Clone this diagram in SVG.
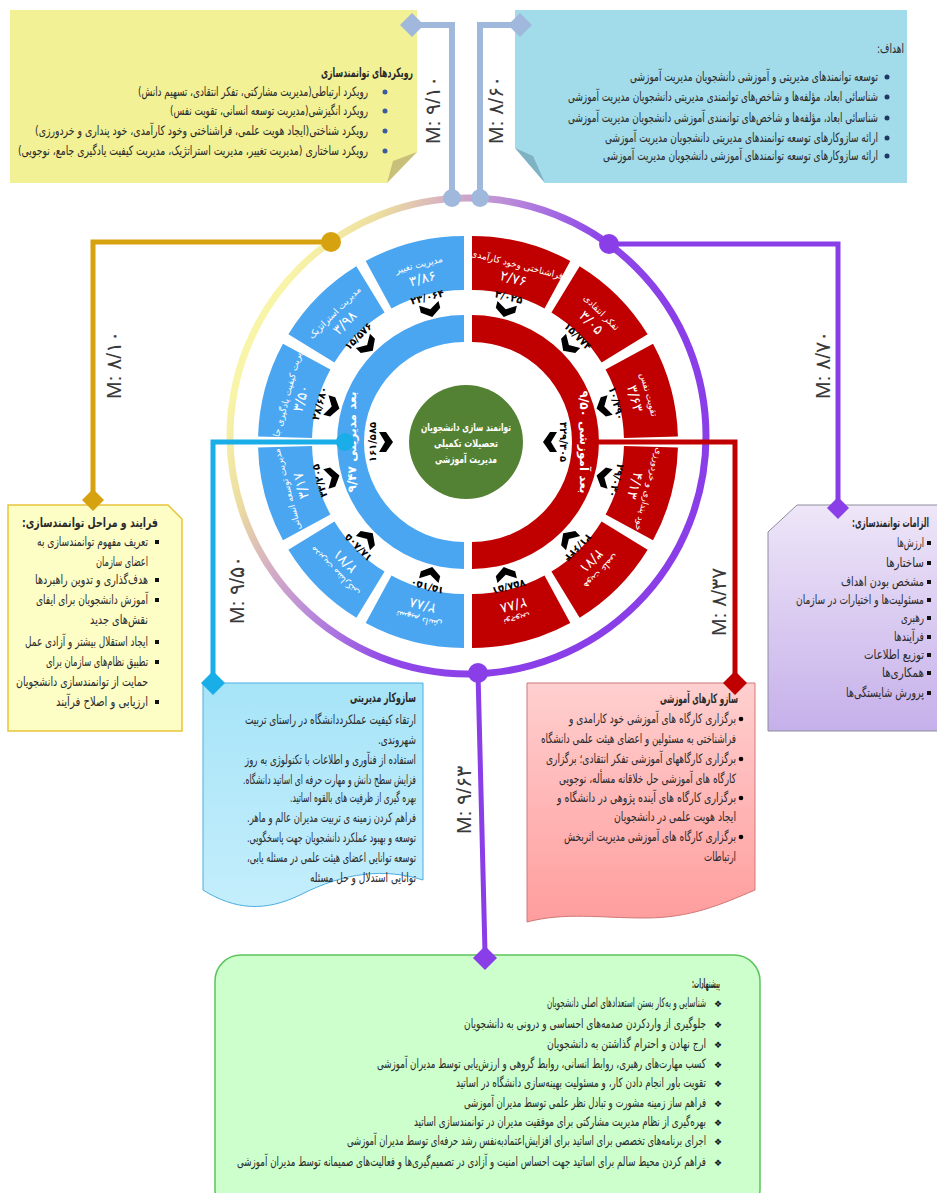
<svg xmlns="http://www.w3.org/2000/svg" width="937" height="1193" viewBox="0 0 937 1193">
<defs>
<style>
.fa{font-family:"DejaVu Sans",sans-serif;fill:#2a2a2a;font-size:13px}
.b{font-weight:bold}
.seg{fill:#fff;font-family:"DejaVu Sans",sans-serif;direction:rtl}
.lab{font-size:9px}
.val{font-size:14px}
.inl{fill:#fff;font-family:"DejaVu Sans",sans-serif;font-size:12px;font-weight:bold;direction:rtl}
.num{font-family:"DejaVu Sans",sans-serif;font-size:10px;font-weight:bold;fill:#000}
.m{font-family:"Liberation Sans",sans-serif;font-size:21px;fill:#3a3a3a}
.blue{fill:#4ba6f2}
.red{fill:#c00000}
.ctr{fill:#fff;font-family:"DejaVu Sans",sans-serif;font-size:11px;font-weight:bold;direction:rtl}
.sq{fill:#111}
</style>
<linearGradient id="ringGrad" gradientUnits="userSpaceOnUse" x1="230" y1="400" x2="560" y2="560">
<stop offset="0" stop-color="#f8f4a8"/>
<stop offset="0.15" stop-color="#ecdca0"/>
<stop offset="0.3" stop-color="#d4aec4"/>
<stop offset="0.45" stop-color="#b98ada"/>
<stop offset="0.7" stop-color="#8f48e8"/>
<stop offset="1" stop-color="#8a3ee8"/>
</linearGradient>
<linearGradient id="lavGrad" x1="0" y1="0" x2="0" y2="1">
<stop offset="0" stop-color="#eee6f8"/>
<stop offset="1" stop-color="#c6b0ea"/>
</linearGradient>
<linearGradient id="cyanGrad" x1="0" y1="0" x2="0" y2="1">
<stop offset="0" stop-color="#a6e4f8"/>
<stop offset="1" stop-color="#c4eefc"/>
</linearGradient>
<linearGradient id="pinkGrad" x1="0" y1="0" x2="0" y2="1">
<stop offset="0" stop-color="#ffcfcf"/>
<stop offset="1" stop-color="#ff9d9d"/>
</linearGradient>
<path id="chev" d="M-10,0 L0,6 L10,0 L10,7 L0,14 L-10,7 Z" fill="#000"/>
</defs>

<rect width="937" height="1193" fill="#fff"/>

<!-- big gradient ring -->
<g id="outer-ring">
<circle cx="468" cy="436" r="238" fill="none" stroke="url(#ringGrad)" stroke-width="7"/>
</g>

<!-- center wheel -->
<g id="wheel-blue">
<path class="blue" d="M464,236 A206,206 0 0 0 365.7,260.97 L391.47,308.42 A152,152 0 0 1 464,290 Z"/>
<path class="blue" d="M356.36,266.36 A206,206 0 0 0 288.36,334.36 L334.4,362.58 A152,152 0 0 1 384.58,312.4 Z"/>
<path class="blue" d="M282.97,343.7 A206,206 0 0 0 258.07,436.61 L312.05,438.02 A152,152 0 0 1 330.42,369.47 Z"/>
<path class="blue" d="M258.07,447.39 A206,206 0 0 0 282.97,540.3 L330.42,514.53 A152,152 0 0 1 312.05,445.98 Z"/>
<path class="blue" d="M288.36,549.64 A206,206 0 0 0 356.36,617.64 L384.58,571.6 A152,152 0 0 1 334.4,521.42 Z"/>
<path class="blue" d="M365.7,623.03 A206,206 0 0 0 464,648 L464,594 A152,152 0 0 1 391.47,575.58 Z"/>
<path class="blue" d="M464,315 A127,127 0 0 0 464,569 L464,542 A100,100 0 0 1 464,342 Z"/>
<g transform="translate(420.7,271.4) rotate(-14.25)"><text class="seg lab" y="-4" text-anchor="middle">مدیریت تغییر</text><text class="seg val" y="12" text-anchor="middle">۳/۸۶</text></g>
<g transform="translate(339.55,317.55) rotate(-45)"><text class="seg lab" y="-4" text-anchor="middle">مدیریت استراتژیک</text><text class="seg val" y="12" text-anchor="middle">۳/۹۸</text></g>
<g transform="translate(294,396.45) rotate(-75)"><text class="seg lab" y="-4" text-anchor="middle">مدیریت کیفیت یادگیری جامع</text><text class="seg val" y="12" text-anchor="middle">۳/۵۰</text></g>
<g transform="translate(294,487.55) rotate(-105)"><text class="seg lab" y="-4" text-anchor="middle">مدیریت توسعه انسانی</text><text class="seg val" y="12" text-anchor="middle">۳/۱۷</text></g>
<g transform="translate(339.55,566.45) rotate(-135)"><text class="seg lab" y="-4" text-anchor="middle">مدیریت مشارکتی</text><text class="seg val" y="12" text-anchor="middle">۲/۷۱</text></g>
<g transform="translate(420.7,612.6) rotate(-165.75)"><text class="seg lab" y="-4" text-anchor="middle">تسهیم دانش</text><text class="seg val" y="12" text-anchor="middle">۲/۸۸</text></g>
<g transform="translate(351,442) rotate(-90)"><text class="inl" y="5" text-anchor="middle">بعد مدیریتی ۹/۴۷</text></g>
<g transform="translate(428.06,300.5) rotate(-14.25)"><text class="num" text-anchor="middle">۲۳/۰۶۴</text><use href="#chev" y="3"/></g>
<g transform="translate(360.76,338.76) rotate(-45)"><text class="num" text-anchor="middle">۱۵/۵۷۶</text><use href="#chev" y="3"/></g>
<g transform="translate(323,404.2) rotate(-75)"><text class="num" text-anchor="middle">۲۸/۶۸۰</text><use href="#chev" y="3"/></g>
<g transform="translate(323,479.8) rotate(-105)"><text class="num" text-anchor="middle">۳۳/۲۰۵</text><use href="#chev" y="3"/></g>
<g transform="translate(360.76,545.24) rotate(-135)"><text class="num" text-anchor="middle">۱۸/۸۰۵</text><use href="#chev" y="3"/></g>
<g transform="translate(428.06,583.5) rotate(-165.75)"><text class="num" text-anchor="middle">۱۵/۱۵۰</text><use href="#chev" y="3"/></g>
<g transform="translate(376,442) rotate(-90)"><text class="num" text-anchor="middle">۱۶۱/۵۸۵</text><use href="#chev" y="3"/></g>
</g>

<g id="wheel-red">
<path class="red" d="M472,236 A206,206 0 0 1 570.3,260.97 L544.53,308.42 A152,152 0 0 0 472,290 Z"/>
<path class="red" d="M579.64,266.36 A206,206 0 0 1 647.64,334.36 L601.6,362.58 A152,152 0 0 0 551.42,312.4 Z"/>
<path class="red" d="M653.03,343.7 A206,206 0 0 1 677.93,436.61 L623.95,438.02 A152,152 0 0 0 605.58,369.47 Z"/>
<path class="red" d="M677.93,447.39 A206,206 0 0 1 653.03,540.3 L605.58,514.53 A152,152 0 0 0 623.95,445.98 Z"/>
<path class="red" d="M647.64,549.64 A206,206 0 0 1 579.64,617.64 L551.42,571.6 A152,152 0 0 0 601.6,521.42 Z"/>
<path class="red" d="M570.3,623.03 A206,206 0 0 1 472,648 L472,594 A152,152 0 0 0 544.53,575.58 Z"/>
<path class="red" d="M472,315 A127,127 0 0 1 472,569 L472,542 A100,100 0 0 0 472,342 Z"/>
<g transform="translate(515.3,271.4) rotate(14.25)"><text class="seg lab" y="-4" text-anchor="middle">فراشناختی وخود کارآمدی</text><text class="seg val" y="12" text-anchor="middle">۲/۷۶</text></g>
<g transform="translate(596.45,317.55) rotate(45)"><text class="seg lab" y="-4" text-anchor="middle">تفکر انتقادی</text><text class="seg val" y="12" text-anchor="middle">۳/۰۵</text></g>
<g transform="translate(642,396.45) rotate(75)"><text class="seg lab" y="-4" text-anchor="middle">تقویت نفس</text><text class="seg val" y="12" text-anchor="middle">۳/۶۳</text></g>
<g transform="translate(642,487.55) rotate(105)"><text class="seg lab" y="-4" text-anchor="middle">خود پنداری و خردورزی</text><text class="seg val" y="12" text-anchor="middle">۴/۱۳</text></g>
<g transform="translate(596.45,566.45) rotate(135)"><text class="seg lab" y="-4" text-anchor="middle">هویت علمی</text><text class="seg val" y="12" text-anchor="middle">۳/۷۱</text></g>
<g transform="translate(515.3,612.6) rotate(165.75)"><text class="seg lab" y="-4" text-anchor="middle">نوجویی</text><text class="seg val" y="12" text-anchor="middle">۲/۸۸</text></g>
<g transform="translate(585,442) rotate(90)"><text class="inl" y="5" text-anchor="middle">بعد آموزشی ۹/۵۰</text></g>
<g transform="translate(507.94,300.5) rotate(14.25)"><text class="num" text-anchor="middle">۳/۰۲۵</text><use href="#chev" y="3"/></g>
<g transform="translate(575.24,338.76) rotate(45)"><text class="num" text-anchor="middle">۱۵/۷۷۴</text><use href="#chev" y="3"/></g>
<g transform="translate(613,404.2) rotate(75)"><text class="num" text-anchor="middle">۱۰/۳۹۰</text><use href="#chev" y="3"/></g>
<g transform="translate(613,479.8) rotate(105)"><text class="num" text-anchor="middle">۲۹/۰۳۰</text><use href="#chev" y="3"/></g>
<g transform="translate(575.24,545.24) rotate(135)"><text class="num" text-anchor="middle">۲۱/۶۴۴</text><use href="#chev" y="3"/></g>
<g transform="translate(507.94,583.5) rotate(165.75)"><text class="num" text-anchor="middle">۷۵۸/۵۱</text><use href="#chev" y="3"/></g>
<g transform="translate(560,442) rotate(90)"><text class="num" text-anchor="middle">۳۲۹/۳۰۵</text><use href="#chev" y="3"/></g>
</g>

<!-- connectors -->
<g id="connectors" fill="none" stroke-linejoin="miter">
<polyline points="452,198 452,25 416,25" stroke="#a0b8dc" stroke-width="6"/>
<polyline points="480,198 480,25 516,25" stroke="#a0b8dc" stroke-width="6"/>
<polyline points="331,242 93,242 93,496" stroke="#d6a20f" stroke-width="5"/>
<polyline points="609,244 838,244 838,504" stroke="#8a3ee8" stroke-width="5"/>
<polyline points="345,442 213,442 213,678" stroke="#1aaee8" stroke-width="5"/>
<polyline points="597,442 735,442 735,678" stroke="#c00000" stroke-width="5"/>
<line x1="478" y1="673" x2="485" y2="952" stroke="#8a3ee8" stroke-width="5"/>
<circle cx="452" cy="198" r="9" fill="#a0b8dc"/>
<circle cx="480" cy="198" r="9" fill="#a0b8dc"/>
<circle cx="331" cy="242" r="10" fill="#d6a20f"/>
<circle cx="609" cy="244" r="10" fill="#8a3ee8"/>
<circle cx="345" cy="442" r="9" fill="#1aaee8"/>
<circle cx="478" cy="673" r="10" fill="#8a3ee8"/>
<text class="m" text-anchor="middle" transform="translate(440,110) rotate(-90)">M: ۹/۱۰</text>
<text class="m" text-anchor="middle" transform="translate(503,110) rotate(-90)">M: ۸/۶۰</text>
<text class="m" text-anchor="middle" transform="translate(121,365) rotate(-90)">M: ۸/۱۰</text>
<text class="m" text-anchor="middle" transform="translate(830,365) rotate(-90)">M: ۸/۷۰</text>
<text class="m" text-anchor="middle" transform="translate(244,590) rotate(-90)">M: ۹/۵۰</text>
<text class="m" text-anchor="middle" transform="translate(726,602) rotate(-90)">M: ۸/۳۷</text>
<text class="m" text-anchor="middle" transform="translate(471,800) rotate(-90)">M: ۹/۶۳</text>
</g>

<g id="center-node">
<circle cx="466" cy="442" r="57" fill="#548235"/>
<text class="ctr" x="466" y="431" text-anchor="middle" textLength="90" lengthAdjust="spacingAndGlyphs">توانمند سازی دانشجویان</text>
<text class="ctr" x="466" y="447" text-anchor="middle" textLength="64" lengthAdjust="spacingAndGlyphs">تحصیلات تکمیلی</text>
<text class="ctr" x="466" y="463" text-anchor="middle" textLength="62" lengthAdjust="spacingAndGlyphs">مدیریت آموزشی</text>
</g>

<!-- top-left: approaches -->
<g id="approaches">
<path d="M10,10 H417 V152 L387,183 H10 Z" fill="#f2f195"/>
<path d="M417,152 L387,183 L393,161 Z" fill="#c8c07a"/>
<path d="M412,13 L424,25 L412,37 L400,25 Z" fill="#a0b8dc"/>
<text class="fa b" x="413" y="77" text-anchor="end" textLength="92" lengthAdjust="spacingAndGlyphs">&#x200F;رویکردهای توانمندسازی&#x200F;</text>
<circle cx="385" cy="92" r="2.5" fill="#3b5c9c"/>
<circle cx="385" cy="111" r="2.5" fill="#3b5c9c"/>
<circle cx="385" cy="131" r="2.5" fill="#3b5c9c"/>
<circle cx="385" cy="151" r="2.5" fill="#3b5c9c"/>
<text class="fa" x="368" y="96" text-anchor="end" textLength="230" lengthAdjust="spacingAndGlyphs">&#x200F;رویکرد ارتباطی(مدیریت مشارکتی، تفکر انتقادی، تسهیم دانش)&#x200F;</text>
<text class="fa" x="368" y="115" text-anchor="end" textLength="198" lengthAdjust="spacingAndGlyphs">&#x200F;رویکرد انگیزشی(مدیریت توسعه انسانی، تقویت نفس)&#x200F;</text>
<text class="fa" x="368" y="135" text-anchor="end" textLength="333" lengthAdjust="spacingAndGlyphs">&#x200F;رویکرد شناختی(ایجاد هویت علمی، فراشناختی وخود کارآمدی، خود پنداری و خردورزی)&#x200F;</text>
<text class="fa" x="368" y="155" text-anchor="end" textLength="350" lengthAdjust="spacingAndGlyphs">&#x200F;رویکرد ساختاری (مدیریت تغییر، مدیریت استراتژیک، مدیریت کیفیت یادگیری جامع، نوجویی)&#x200F;</text>
</g>

<!-- top-right: goals -->
<g id="goals">
<path d="M515,10 H907 V183 H545 L515,148 Z" fill="#a2dbea"/>
<path d="M515,148 L545,183 L533,156 Z" fill="#7fb2c2"/>
<path d="M520,13 L532,25 L520,37 L508,25 Z" fill="#a0b8dc"/>
<text class="fa" x="904" y="53" text-anchor="end" textLength="27" lengthAdjust="spacingAndGlyphs">&#x200F;اهداف:&#x200F;</text>
<circle cx="887" cy="77" r="2.5" fill="#1f3864"/>
<circle cx="887" cy="97" r="2.5" fill="#1f3864"/>
<circle cx="887" cy="118" r="2.5" fill="#1f3864"/>
<circle cx="887" cy="138" r="2.5" fill="#1f3864"/>
<circle cx="887" cy="156" r="2.5" fill="#1f3864"/>
<text class="fa" x="878" y="81" text-anchor="end" textLength="248" lengthAdjust="spacingAndGlyphs">&#x200F;توسعه توانمندهای مدیریتی و آموزشی دانشجویان مدیریت آموزشی&#x200F;</text>
<text class="fa" x="878" y="101" text-anchor="end" textLength="310" lengthAdjust="spacingAndGlyphs">&#x200F;شناسائی ابعاد، مؤلفه‌ها و شاخص‌های توانمندی مدیریتی دانشجویان مدیریت آموزشی&#x200F;</text>
<text class="fa" x="878" y="122" text-anchor="end" textLength="310" lengthAdjust="spacingAndGlyphs">&#x200F;شناسائی ابعاد، مؤلفه‌ها و شاخص‌های توانمندی آموزشی دانشجویان مدیریت آموزشی&#x200F;</text>
<text class="fa" x="878" y="142" text-anchor="end" textLength="273" lengthAdjust="spacingAndGlyphs">&#x200F;ارائه سازوکارهای توسعه توانمندهای مدیریتی دانشجویان مدیریت آموزشی&#x200F;</text>
<text class="fa" x="878" y="160" text-anchor="end" textLength="275" lengthAdjust="spacingAndGlyphs">&#x200F;ارائه سازوکارهای توسعه توانمندهای آموزشی دانشجویان مدیریت آموزشی&#x200F;</text>
</g>

<!-- left: process -->
<g id="process">
<path d="M8,505 H168 L182,519 V731 H8 Z" fill="#fdfdc6" stroke="#e8c53a" stroke-width="1.5"/>
<path d="M93,489 L104,500 L93,511 L82,500 Z" fill="#d6a20f"/>
<text class="fa b" x="158" y="527" text-anchor="end" textLength="136" lengthAdjust="spacingAndGlyphs">&#x200F;فرایند و مراحل توانمندسازی:&#x200F;</text>
<rect class="sq" x="155" y="540" width="4" height="4"/>
<rect class="sq" x="155" y="578" width="4" height="4"/>
<rect class="sq" x="155" y="598" width="4" height="4"/>
<rect class="sq" x="155" y="640" width="4" height="4"/>
<rect class="sq" x="155" y="660" width="4" height="4"/>
<rect class="sq" x="155" y="700" width="4" height="4"/>
<text class="fa" x="148" y="546" text-anchor="end" textLength="111" lengthAdjust="spacingAndGlyphs">&#x200F;تعریف مفهوم توانمندسازی به&#x200F;</text>
<text class="fa" x="148" y="566" text-anchor="end" textLength="52" lengthAdjust="spacingAndGlyphs">&#x200F;اعضای سازمان&#x200F;</text>
<text class="fa" x="148" y="584" text-anchor="end" textLength="113" lengthAdjust="spacingAndGlyphs">&#x200F;هدف‌گذاری و تدوین راهبردها&#x200F;</text>
<text class="fa" x="148" y="604" text-anchor="end" textLength="112" lengthAdjust="spacingAndGlyphs">&#x200F;آموزش دانشجویان برای ایفای&#x200F;</text>
<text class="fa" x="148" y="624" text-anchor="end" textLength="58" lengthAdjust="spacingAndGlyphs">&#x200F;نقش‌های جدید&#x200F;</text>
<text class="fa" x="148" y="646" text-anchor="end" textLength="123" lengthAdjust="spacingAndGlyphs">&#x200F;ایجاد استقلال بیشتر و آزادی عمل&#x200F;</text>
<text class="fa" x="148" y="666" text-anchor="end" textLength="102" lengthAdjust="spacingAndGlyphs">&#x200F;تطبیق نظام‌های سازمان برای&#x200F;</text>
<text class="fa" x="148" y="686" text-anchor="end" textLength="132" lengthAdjust="spacingAndGlyphs">&#x200F;حمایت از توانمندسازی دانشجویان&#x200F;</text>
<text class="fa" x="148" y="706" text-anchor="end" textLength="92" lengthAdjust="spacingAndGlyphs">&#x200F;ارزیابی و اصلاح فرآیند&#x200F;</text>
</g>

<!-- right: requirements -->
<g id="requirements">
<path d="M797,505 H940 V731 H768 V532 Z" fill="url(#lavGrad)" stroke="#8c8c9c" stroke-width="1"/>
<path d="M838,497 L849,508 L838,519 L827,508 Z" fill="#8a3ee8"/>
<text class="fa b" x="929" y="527" text-anchor="end" textLength="77" lengthAdjust="spacingAndGlyphs">&#x200F;الزامات توانمندسازی:&#x200F;</text>
<rect class="sq" x="927" y="541" width="4" height="4"/>
<rect class="sq" x="927" y="561" width="4" height="4"/>
<rect class="sq" x="927" y="580" width="4" height="4"/>
<rect class="sq" x="927" y="598" width="4" height="4"/>
<rect class="sq" x="927" y="616" width="4" height="4"/>
<rect class="sq" x="927" y="635" width="4" height="4"/>
<rect class="sq" x="927" y="653" width="4" height="4"/>
<rect class="sq" x="927" y="671" width="4" height="4"/>
<rect class="sq" x="927" y="691" width="4" height="4"/>
<text class="fa" x="924" y="547" text-anchor="end" textLength="27" lengthAdjust="spacingAndGlyphs">&#x200F;ارزش‌ها&#x200F;</text>
<text class="fa" x="924" y="567" text-anchor="end" textLength="38" lengthAdjust="spacingAndGlyphs">&#x200F;ساختارها&#x200F;</text>
<text class="fa" x="924" y="586" text-anchor="end" textLength="83" lengthAdjust="spacingAndGlyphs">&#x200F;مشخص بودن اهداف&#x200F;</text>
<text class="fa" x="924" y="604" text-anchor="end" textLength="128" lengthAdjust="spacingAndGlyphs">&#x200F;مسئولیت‌ها و اختیارات در سازمان&#x200F;</text>
<text class="fa" x="924" y="622" text-anchor="end" textLength="23" lengthAdjust="spacingAndGlyphs">&#x200F;رهبری&#x200F;</text>
<text class="fa" x="924" y="641" text-anchor="end" textLength="30" lengthAdjust="spacingAndGlyphs">&#x200F;فرآیندها&#x200F;</text>
<text class="fa" x="924" y="659" text-anchor="end" textLength="60" lengthAdjust="spacingAndGlyphs">&#x200F;توزیع اطلاعات&#x200F;</text>
<text class="fa" x="924" y="677" text-anchor="end" textLength="42" lengthAdjust="spacingAndGlyphs">&#x200F;همکاری‌ها&#x200F;</text>
<text class="fa" x="924" y="697" text-anchor="end" textLength="78" lengthAdjust="spacingAndGlyphs">&#x200F;پرورش شایستگی‌ها&#x200F;</text>
</g>

<!-- bottom-left: management mechanisms -->
<g id="management-mechanisms">
<path d="M203,683 H423 V880 C385,868 345,872 300,895 C265,912 235,910 203,890 Z" fill="url(#cyanGrad)" stroke="#4aaee0" stroke-width="1"/>
<path d="M213,671 L225,683 L213,695 L201,683 Z" fill="#1aaee8"/>
<text class="fa b" x="416" y="702" text-anchor="end" textLength="66" lengthAdjust="spacingAndGlyphs">&#x200F;سازوکار مدیریتی&#x200F;</text>
<text class="fa" x="416" y="724" text-anchor="end" textLength="171" lengthAdjust="spacingAndGlyphs">&#x200F;ارتقاء کیفیت عملکرددانشگاه در راستای تربیت&#x200F;</text>
<text class="fa" x="416" y="744" text-anchor="end" textLength="38" lengthAdjust="spacingAndGlyphs">&#x200F;شهروندی.&#x200F;</text>
<text class="fa" x="416" y="764" text-anchor="end" textLength="171" lengthAdjust="spacingAndGlyphs">&#x200F;استفاده از فنآوری و اطلاعات با تکنولوژی به روز&#x200F;</text>
<text class="fa" x="416" y="784" text-anchor="end" textLength="173" lengthAdjust="spacingAndGlyphs">&#x200F;فزایش سطح دانش و مهارت حرفه ای اساتید دانشگاه.&#x200F;</text>
<text class="fa" x="416" y="802" text-anchor="end" textLength="126" lengthAdjust="spacingAndGlyphs">&#x200F;بهره گیری از ظرفیت های بالقوه اساتید.&#x200F;</text>
<text class="fa" x="416" y="822" text-anchor="end" textLength="169" lengthAdjust="spacingAndGlyphs">&#x200F;فراهم کردن زمینه ی تربیت مدیران عالم و ماهر.&#x200F;</text>
<text class="fa" x="416" y="842" text-anchor="end" textLength="169" lengthAdjust="spacingAndGlyphs">&#x200F;توسعه و بهبود عملکرد دانشجویان جهت پاسخگویی.&#x200F;</text>
<text class="fa" x="416" y="862" text-anchor="end" textLength="169" lengthAdjust="spacingAndGlyphs">&#x200F;توسعه توانایی اعضای هیئت علمی در مسئله یابی،&#x200F;</text>
<text class="fa" x="416" y="882" text-anchor="end" textLength="106" lengthAdjust="spacingAndGlyphs">&#x200F;توانایی استدلال و حل مسئله&#x200F;</text>
</g>

<!-- bottom-right: educational mechanisms -->
<g id="educational-mechanisms">
<path d="M527,683 H755 V890 C720,905 690,918 645,918 C600,918 565,912 527,922 Z" fill="url(#pinkGrad)" stroke="#d07878" stroke-width="1"/>
<path d="M735,671 L747,683 L735,695 L723,683 Z" fill="#c00000"/>
<text class="fa b" x="738" y="703" text-anchor="end" textLength="78" lengthAdjust="spacingAndGlyphs">&#x200F;سازو کارهای آموزشی&#x200F;</text>
<circle cx="741" cy="719" r="2.3" fill="#000"/>
<circle cx="741" cy="759" r="2.3" fill="#000"/>
<circle cx="741" cy="798" r="2.3" fill="#000"/>
<circle cx="741" cy="837" r="2.3" fill="#000"/>
<text class="fa" x="736" y="723" text-anchor="end" textLength="167" lengthAdjust="spacingAndGlyphs">&#x200F;برگزاری کارگاه های آموزشی خود کارامدی و&#x200F;</text>
<text class="fa" x="736" y="743" text-anchor="end" textLength="195" lengthAdjust="spacingAndGlyphs">&#x200F;فراشناختی به مسئولین و اعضای هیئت علمی دانشگاه&#x200F;</text>
<text class="fa" x="736" y="763" text-anchor="end" textLength="190" lengthAdjust="spacingAndGlyphs">&#x200F;برگزاری کارگاههای آموزشی تفکر انتقادی؛ برگزاری&#x200F;</text>
<text class="fa" x="736" y="783" text-anchor="end" textLength="177" lengthAdjust="spacingAndGlyphs">&#x200F;کارگاه های آموزشی حل خلاقانه مسأله، نوجویی&#x200F;</text>
<text class="fa" x="736" y="802" text-anchor="end" textLength="179" lengthAdjust="spacingAndGlyphs">&#x200F;برگزاری کارگاه های آینده  پژوهی  در دانشگاه و&#x200F;</text>
<text class="fa" x="736" y="821" text-anchor="end" textLength="122" lengthAdjust="spacingAndGlyphs">&#x200F;ایجاد هویت علمی در دانشجویان&#x200F;</text>
<text class="fa" x="736" y="841" text-anchor="end" textLength="172" lengthAdjust="spacingAndGlyphs">&#x200F;برگزاری کارگاه های آموزشی مدیریت اثربخش&#x200F;</text>
<text class="fa" x="736" y="861" text-anchor="end" textLength="32" lengthAdjust="spacingAndGlyphs">&#x200F;ارتباطات&#x200F;</text>
</g>

<!-- bottom: suggestions -->
<g id="suggestions">
<rect x="215" y="955" width="545" height="260" rx="26" fill="#ccffcc" stroke="#5ec45e" stroke-width="1.5"/>
<path d="M485,946 L497,958 L485,970 L473,958 Z" fill="#8a3ee8"/>
<text class="fa b" x="720" y="988" text-anchor="end" textLength="28" lengthAdjust="spacingAndGlyphs">&#x200F;پیشنهادات:&#x200F;</text>
<g font-family="DejaVu Sans, sans-serif" font-size="9" fill="#111">
<text x="718" y="1007" text-anchor="middle">❖</text><text x="718" y="1028" text-anchor="middle">❖</text><text x="718" y="1048" text-anchor="middle">❖</text>
<text x="718" y="1068" text-anchor="middle">❖</text><text x="718" y="1087" text-anchor="middle">❖</text><text x="718" y="1107" text-anchor="middle">❖</text>
<text x="718" y="1126" text-anchor="middle">❖</text><text x="718" y="1145" text-anchor="middle">❖</text><text x="718" y="1166" text-anchor="middle">❖</text>
</g>
<text class="fa" x="706" y="1007" text-anchor="end" textLength="159" lengthAdjust="spacingAndGlyphs">&#x200F;شناسایی و به‌کار بستن استعدادهای اصلی دانشجویان&#x200F;</text>
<text class="fa" x="706" y="1028" text-anchor="end" textLength="242" lengthAdjust="spacingAndGlyphs">&#x200F;جلوگیری از واردکردن صدمه‌های احساسی و درونی به دانشجویان&#x200F;</text>
<text class="fa" x="706" y="1048" text-anchor="end" textLength="159" lengthAdjust="spacingAndGlyphs">&#x200F;ارج نهادن و احترام گذاشتن به دانشجویان&#x200F;</text>
<text class="fa" x="706" y="1068" text-anchor="end" textLength="329" lengthAdjust="spacingAndGlyphs">&#x200F;کسب مهارت‌های رهبری، روابط انسانی، روابط گروهی و ارزش‌یابی توسط مدیران آموزشی&#x200F;</text>
<text class="fa" x="706" y="1087" text-anchor="end" textLength="250" lengthAdjust="spacingAndGlyphs">&#x200F;تقویت باور انجام دادن کار، و مسئولیت بهینه‌سازی دانشگاه در اساتید&#x200F;</text>
<text class="fa" x="706" y="1107" text-anchor="end" textLength="242" lengthAdjust="spacingAndGlyphs">&#x200F;فراهم ساز زمینه مشورت و تبادل نظر علمی توسط مدیران آموزشی&#x200F;</text>
<text class="fa" x="706" y="1126" text-anchor="end" textLength="292" lengthAdjust="spacingAndGlyphs">&#x200F;بهره‌گیری از نظام مدیریت مشارکتی برای موفقیت مدیران در توانمندسازی اساتید&#x200F;</text>
<text class="fa" x="706" y="1145" text-anchor="end" textLength="359" lengthAdjust="spacingAndGlyphs">&#x200F;اجرای برنامه‌های تخصصی برای اساتید برای افزایش‌اعتمادبه‌نفس رشد حرفه‌ای توسط مدیران آموزشی&#x200F;</text>
<text class="fa" x="706" y="1166" text-anchor="end" textLength="469" lengthAdjust="spacingAndGlyphs">&#x200F;فراهم کردن محیط سالم برای اساتید جهت احساس امنیت و آزادی در تصمیم‌گیری‌ها و فعالیت‌های صمیمانه توسط مدیران آموزشی&#x200F;</text>
</g>
</svg>
